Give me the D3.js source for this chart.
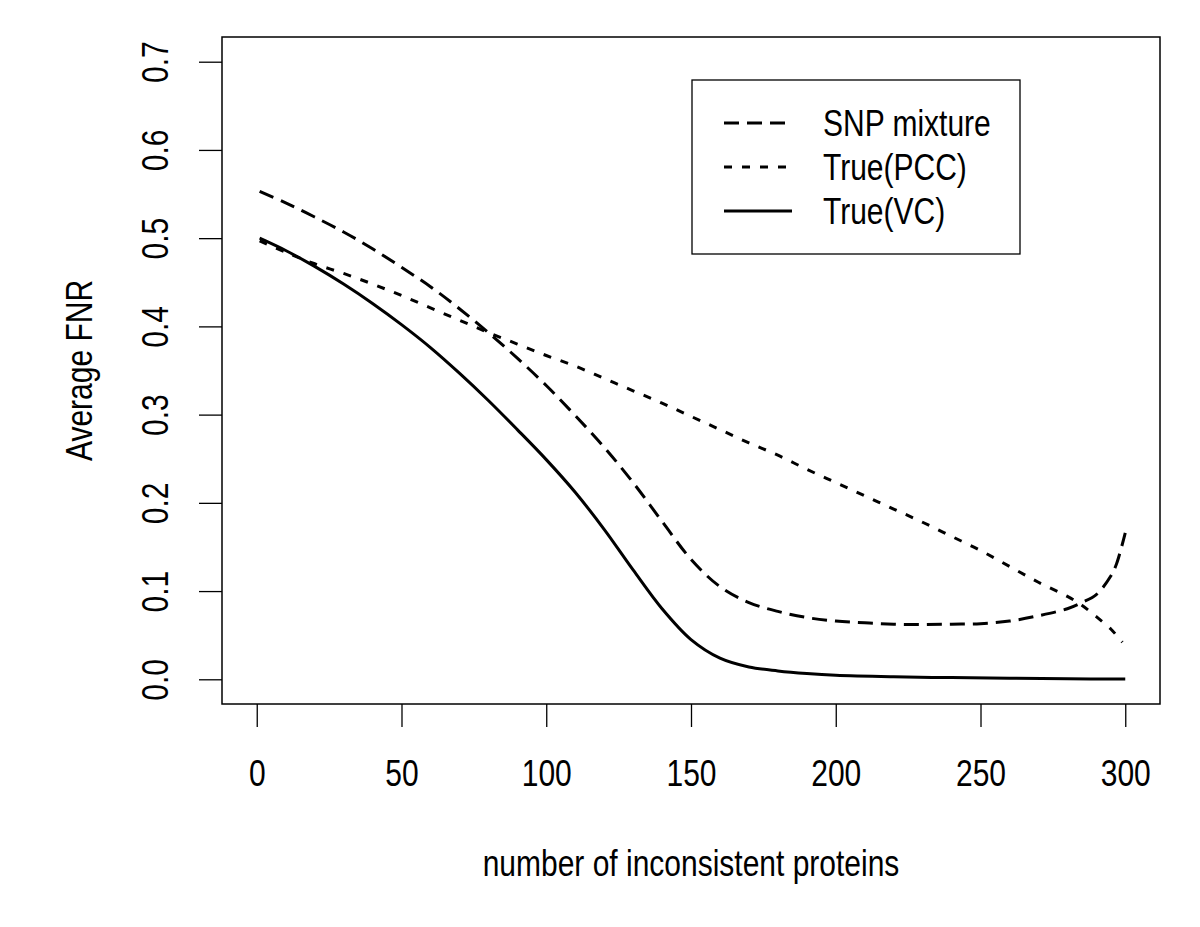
<!DOCTYPE html>
<html>
<head>
<meta charset="utf-8">
<script src="https://cdn.jsdelivr.net/npm/d3@7"></script>
<style>
  body { margin: 0; background: #fff; }
  svg { font-family: "Liberation Sans", Arial, sans-serif; }
</style>
</head>
<body>
<div id="chart"></div>
<script>
// proteins (x) and average FNR per method
const xSnp = [1, 10, 20, 30, 40, 50, 60, 70, 80, 90, 100, 110, 120, 130, 140, 150, 160, 170, 180, 190, 200, 210, 220, 230, 240, 250, 260, 270, 280, 285, 290, 295, 297, 300];
const snpMixture = [0.553, 0.540, 0.524, 0.507, 0.488, 0.467, 0.445, 0.420, 0.393, 0.364, 0.333, 0.299, 0.263, 0.223, 0.179, 0.136, 0.105, 0.087, 0.077, 0.070, 0.066, 0.064, 0.0625, 0.062, 0.0625, 0.063, 0.066, 0.072, 0.080, 0.087, 0.096, 0.117, 0.131, 0.166];

const xPcc = [1, 10, 20, 30, 40, 50, 60, 70, 80, 90, 100, 110, 120, 130, 140, 150, 160, 170, 180, 190, 200, 210, 220, 230, 240, 250, 260, 270, 280, 285, 290, 295, 299];
const truePcc = [0.497, 0.484, 0.471, 0.460, 0.448, 0.435, 0.421, 0.407, 0.393, 0.380, 0.367, 0.355, 0.341, 0.327, 0.313, 0.298, 0.283, 0.268, 0.254, 0.238, 0.223, 0.208, 0.193, 0.178, 0.162, 0.146, 0.128, 0.110, 0.094, 0.084, 0.071, 0.057, 0.042];

const xVc = [1, 10, 20, 30, 40, 50, 60, 70, 80, 90, 100, 110, 120, 130, 140, 150, 160, 170, 180, 190, 200, 220, 240, 260, 280, 300];
const trueVc = [0.500, 0.486, 0.468, 0.448, 0.426, 0.402, 0.376, 0.347, 0.316, 0.283, 0.249, 0.212, 0.170, 0.124, 0.080, 0.045, 0.024, 0.014, 0.0095, 0.0065, 0.0045, 0.0028, 0.0019, 0.0012, 0.0006, 0.0003];

const xTicks = [0, 50, 100, 150, 200, 250, 300];
const yTicks = [0, 0.1, 0.2, 0.3, 0.4, 0.5, 0.6, 0.7];

const seriesNames = ['SNP mixture', 'True(PCC)', 'True(VC)'];
const dashes = ['15,8', '8,10', null];

const W = 1200, H = 927;
const box = { left: 222, right: 1160, top: 37, bottom: 704 };
const fontSize = 30;
const stretch = 'scale(1,1.25)'; // the original font is drawn tall and narrow

const svg = d3.select('#chart')
  .append('svg')
  .attr('width', W)
  .attr('height', H);

// R style: 4% padding around the data range
const x = d3.scaleLinear().domain([-12, 312]).range([box.left, box.right]);
const y = d3.scaleLinear().domain([-0.028, 0.728]).range([box.bottom, box.top]);

// x axis
const xAxis = svg.append('g')
  .attr('transform', `translate(0,${box.bottom})`)
  .call(d3.axisBottom(x).tickValues(xTicks).tickSize(23).tickFormat(d3.format('d')));
xAxis.select('.domain').remove();
xAxis.selectAll('line').attr('stroke', '#000').attr('stroke-width', 1.3);
xAxis.selectAll('text')
  .attr('font-size', fontSize)
  .attr('fill', '#000')
  .attr('y', null)
  .attr('dy', null)
  .attr('transform', `translate(0,82) ${stretch}`);

// y axis, labels turned like R's default las=0
const yAxis = svg.append('g')
  .attr('transform', `translate(${box.left},0)`)
  .call(d3.axisLeft(y).tickValues(yTicks).tickSize(23).tickFormat(d3.format('.1f')));
yAxis.select('.domain').remove();
yAxis.selectAll('line').attr('stroke', '#000').attr('stroke-width', 1.3);
yAxis.selectAll('text')
  .attr('font-size', fontSize)
  .attr('fill', '#000')
  .attr('x', null)
  .attr('dy', null)
  .attr('text-anchor', 'middle')
  .attr('transform', `translate(-54,0) rotate(-90) ${stretch}`);

// plot frame
svg.append('rect')
  .attr('x', box.left)
  .attr('y', box.top)
  .attr('width', box.right - box.left)
  .attr('height', box.bottom - box.top)
  .attr('fill', 'none')
  .attr('stroke', '#000')
  .attr('stroke-width', 1.5);

const line = d3.line()
  .x(d => x(d[0]))
  .y(d => y(d[1]))
  .curve(d3.curveCatmullRom.alpha(0.5));

const series = [
  d3.zip(xSnp, snpMixture),
  d3.zip(xPcc, truePcc),
  d3.zip(xVc, trueVc)
];

svg.selectAll('.curve')
  .data(series)
  .enter()
  .append('path')
  .attr('class', 'curve')
  .attr('d', line)
  .attr('fill', 'none')
  .attr('stroke', '#000')
  .attr('stroke-width', 3)
  .attr('stroke-dasharray', (d, i) => dashes[i]);

// axis titles
svg.append('text')
  .attr('transform', `translate(${(box.left + box.right) / 2},876) ${stretch}`)
  .attr('text-anchor', 'middle')
  .attr('font-size', fontSize)
  .text('number of inconsistent proteins');

svg.append('text')
  .attr('transform', `translate(92,${(box.top + box.bottom) / 2}) rotate(-90) ${stretch}`)
  .attr('text-anchor', 'middle')
  .attr('font-size', fontSize)
  .text('Average FNR');

// legend
const legend = svg.append('g').attr('transform', 'translate(692,80)');
legend.append('rect')
  .attr('width', 328)
  .attr('height', 174)
  .attr('fill', '#fff')
  .attr('stroke', '#000')
  .attr('stroke-width', 1.3);

const rows = legend.selectAll('.row')
  .data(seriesNames)
  .enter()
  .append('g')
  .attr('transform', (d, i) => `translate(0,${43 + i * 44})`);

rows.append('line')
  .attr('x1', 32)
  .attr('x2', 100)
  .attr('stroke', '#000')
  .attr('stroke-width', 3)
  .attr('stroke-dasharray', (d, i) => dashes[i]);

rows.append('text')
  .attr('transform', `translate(131,13) ${stretch}`)
  .attr('font-size', fontSize)
  .text(d => d);
</script>
</body>
</html>
